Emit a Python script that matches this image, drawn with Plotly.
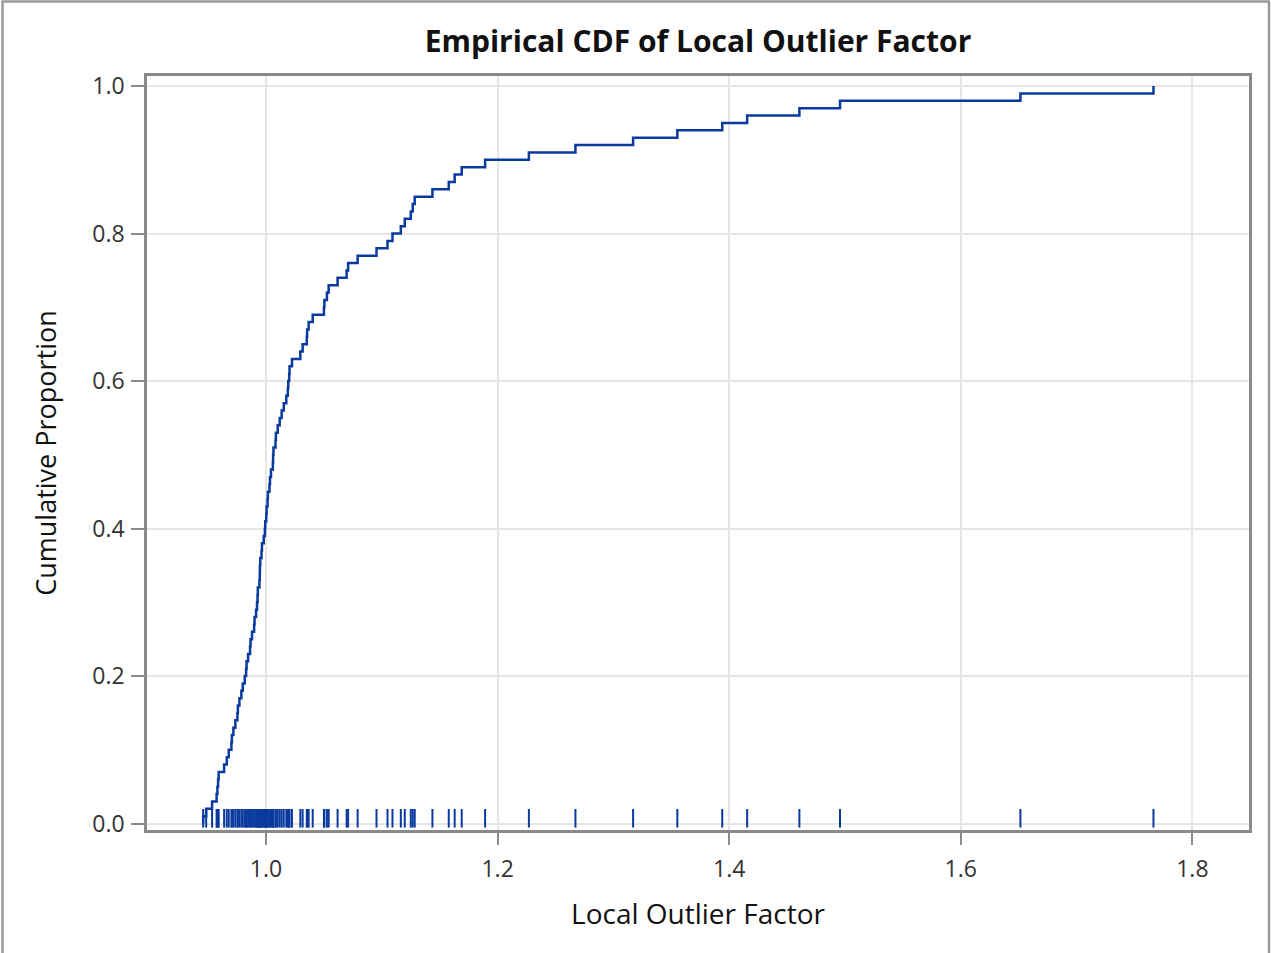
import numpy as np
import plotly.graph_objects as go

# Local Outlier Factor values (sorted)
lof_values = [
    0.9457, 0.9483, 0.9534, 0.9573, 0.9580, 0.9586, 0.9591, 0.9638, 0.9661, 0.9678,
    0.9701, 0.9705, 0.9718, 0.9735, 0.9753, 0.9757, 0.9770, 0.9787, 0.9799, 0.9816,
    0.9828, 0.9832, 0.9845, 0.9862, 0.9866, 0.9879, 0.9897, 0.9901, 0.9914, 0.9922,
    0.9927, 0.9929, 0.9943, 0.9946, 0.9947, 0.9950, 0.9961, 0.9965, 0.9980, 0.9990,
    0.9993, 1.0002, 1.0005, 1.0013, 1.0016, 1.0030, 1.0034, 1.0043, 1.0059, 1.0061,
    1.0064, 1.0082, 1.0085, 1.0101, 1.0118, 1.0135, 1.0153, 1.0175, 1.0188, 1.0192,
    1.0200, 1.0203, 1.0224, 1.0296, 1.0316, 1.0352, 1.0355, 1.0368, 1.0403, 1.0500,
    1.0504, 1.0526, 1.0541, 1.0618, 1.0696, 1.0709, 1.0791, 1.0954, 1.1049, 1.1092,
    1.1164, 1.1198, 1.1250, 1.1267, 1.1284, 1.1437, 1.1578, 1.1629, 1.1690, 1.1892,
    1.2270, 1.2672, 1.3170, 1.3552, 1.3940, 1.4155, 1.4606, 1.4957, 1.6515, 1.7664,
]

x_ticks = [1.0, 1.2, 1.4, 1.6, 1.8]
x_tick_labels = ["1.0", "1.2", "1.4", "1.6", "1.8"]
y_ticks = [0.0, 0.2, 0.4, 0.6, 0.8, 1.0]
y_tick_labels = ["0.0", "0.2", "0.4", "0.6", "0.8", "1.0"]

title_text = "Empirical CDF of Local Outlier Factor"
x_title = "Local Outlier Factor"
y_title = "Cumulative Proportion"

LINE_COLOR = "#0a3a9e"
FONT = "Open Sans, Liberation Sans, Arial, sans-serif"

vals = np.sort(np.array(lof_values))
n = len(vals)
ecdf = np.arange(1, n + 1) / n

step_x = np.concatenate([[vals[0]], vals])
step_y = np.concatenate([[0.0], ecdf])

# rug segments along the bottom of the plot area
rug_lo, rug_hi = -0.0055, 0.0197
rug_x, rug_y = [], []
for v in vals:
    rug_x += [v, v, None]
    rug_y += [rug_lo, rug_hi, None]

fig = go.Figure()
fig.add_trace(go.Scatter(x=rug_x, y=rug_y, mode="lines",
                         line=dict(color=LINE_COLOR, width=2), hoverinfo="skip",
                         showlegend=False))
fig.add_trace(go.Scatter(x=step_x, y=step_y, mode="lines", line_shape="hv",
                         line=dict(color=LINE_COLOR, width=2.5), showlegend=False))

W, H = 1271, 953
ml, mr, mt, mb = 147, 22, 76, 123
pw, ph = W - ml - mr, H - mt - mb

fig.update_layout(
    width=W, height=H,
    margin=dict(l=ml, r=mr, t=mt, b=mb, pad=0),
    paper_bgcolor="white", plot_bgcolor="white",
    font=dict(family=FONT, color="#333333", size=20),
    title=dict(text="<b>" + title_text + "</b>", x=(ml + pw / 2) / W, xanchor="center",
               y=1 - 41 / H, yanchor="middle",
               font=dict(family=FONT, size=30, color="#111111")),
    showlegend=False,
)
fig.update_xaxes(
    range=[0.8972, 1.8489], tickvals=x_ticks, ticktext=x_tick_labels,
    showgrid=True, gridcolor="#e6e6e6", gridwidth=2,
    showline=True, linecolor="#8a8a8a", linewidth=2.5, mirror=True,
    ticks="outside", ticklen=12, tickwidth=2, tickcolor="#8a8a8a",
    zeroline=False, ticklabelstandoff=5,
    title=dict(text=x_title, font=dict(family=FONT, size=28, color="#111111"), standoff=22),
    tickfont=dict(family=FONT, size=23, color="#333333"),
)
fig.update_yaxes(
    range=[-0.0088, 1.0136], tickvals=y_ticks, ticktext=y_tick_labels,
    showgrid=True, gridcolor="#e6e6e6", gridwidth=2,
    showline=True, linecolor="#8a8a8a", linewidth=2.5, mirror=True,
    ticks="outside", ticklen=13, tickwidth=2, tickcolor="#8a8a8a",
    zeroline=False, ticklabelstandoff=2,
    title=dict(text=y_title, font=dict(family=FONT, size=27, color="#111111"), standoff=28),
    tickfont=dict(family=FONT, size=23, color="#333333"),
)

# outer border around the whole graphic (top, left, right)
x_left = (2.5 - ml) / pw
x_right = (W - 2 - ml) / pw
y_top = 1 + (mt - 1.5) / ph
y_bot = -(H - mt - ph) / ph - 0.01
fig.add_shape(type="path", xref="paper", yref="paper",
              path=f"M {x_left} {y_bot} L {x_left} {y_top} L {x_right} {y_top} L {x_right} {y_bot}",
              line=dict(color="#9a9a9a", width=2.5), layer="below")

fig.write_html("out.html")
